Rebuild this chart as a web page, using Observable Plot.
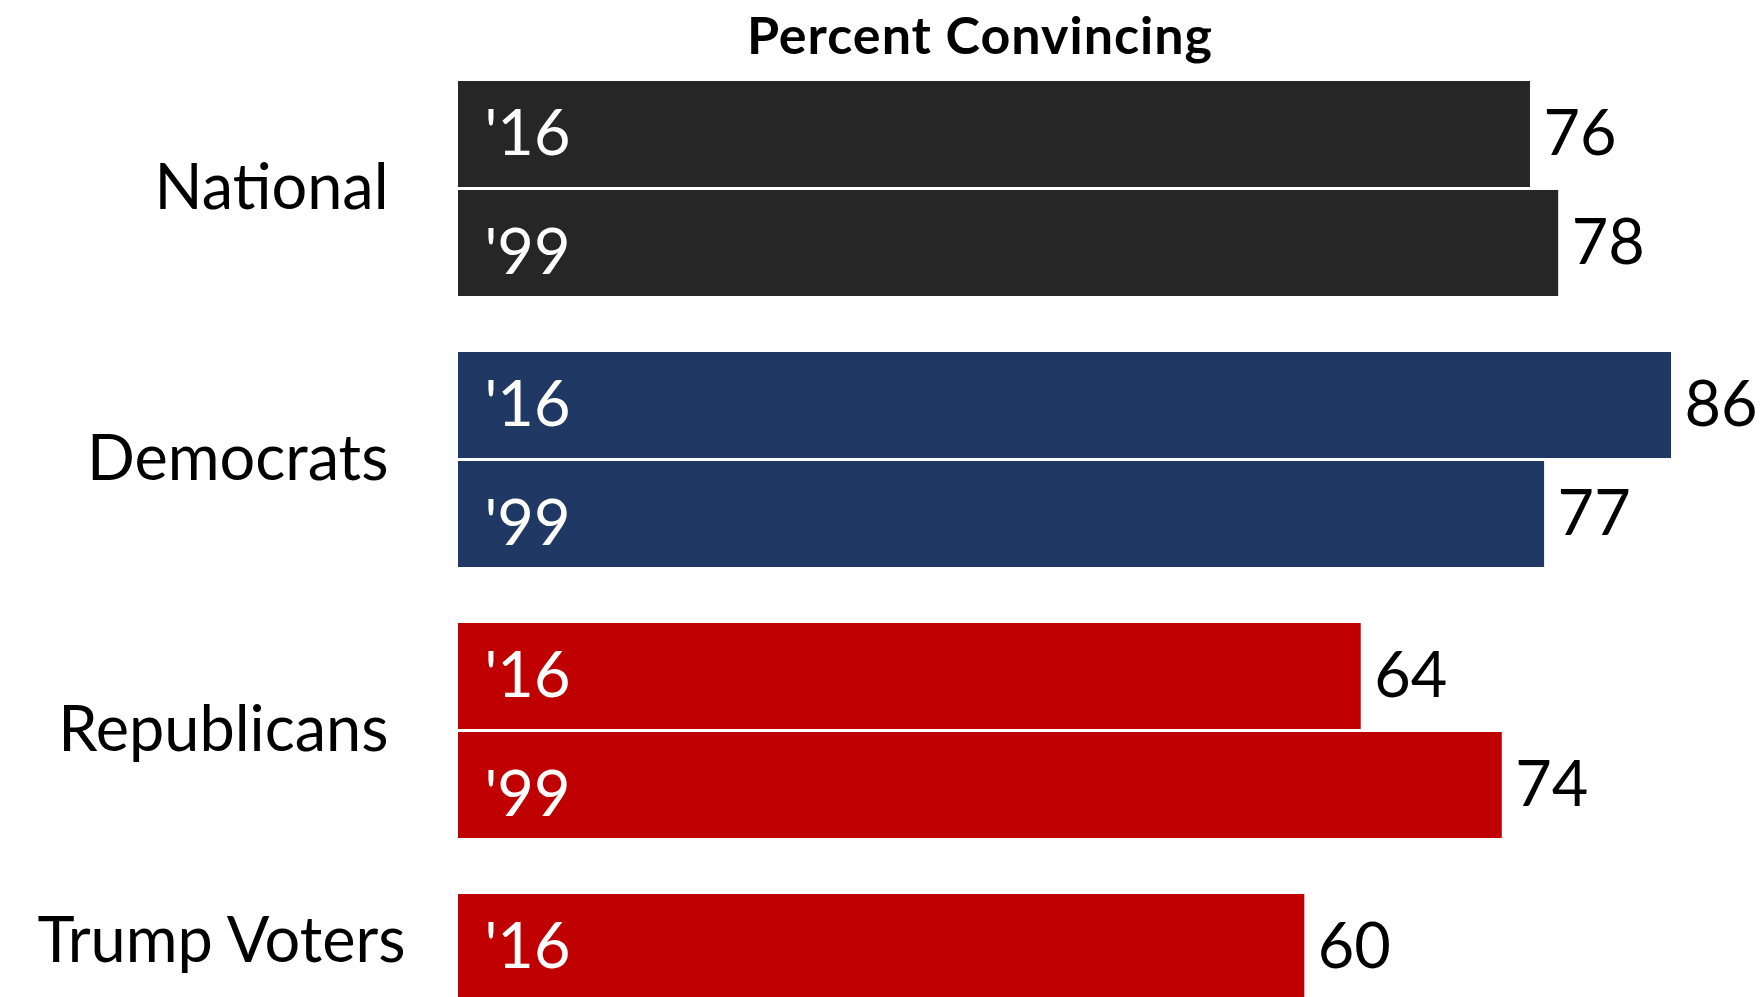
<!DOCTYPE html>
<html>
<head>
<meta charset="utf-8">
<script src="https://cdn.jsdelivr.net/npm/d3@7"></script>
<script src="https://cdn.jsdelivr.net/npm/@observablehq/plot@0.6"></script>
<style>
  html, body { margin: 0; padding: 0; background: #fff; overflow: hidden; }
  #wrap { position: relative; width: 1764px; height: 997px; overflow: hidden; background: #fff; }
  #title { position: absolute; left: 0; width: 1960px; top: 3px; text-align: center;
           font-family: Lato, sans-serif; font-weight: 700; font-size: 52px; letter-spacing: 1px;
           color: #000; line-height: normal; }
  #chart { position: absolute; left: 0; top: 0; }
</style>
</head>
<body>
<div id="wrap">
  <div id="chart"></div>
  <div id="title">Percent Convincing</div>
</div>
<script>
const groups = ["National", "Democrats", "Republicans", "Trump Voters"];
const years = ["'16", "'99"];
const values16 = [76, 86, 64, 60];
const values99 = [78, 77, 74, null];
const groupColors = ["#262626", "#203864", "#C00000", "#C00000"];

const rows = [];
groups.forEach((g, i) => {
  rows.push({group: g, year: years[0], value: values16[i], color: groupColors[i]});
  if (values99[i] != null) rows.push({group: g, year: years[1], value: values99[i], color: groupColors[i]});
});
const pairGroups = new Set(rows.filter(d => d.year === years[1]).map(d => d.group));

const chart = Plot.plot({
  width: 1764,
  height: 1109,
  marginLeft: 458,
  marginRight: 0,
  marginTop: 81,
  marginBottom: 0,
  style: {fontFamily: "Lato, sans-serif", background: "#fff"},
  facet: {data: rows, y: "group"},
  fy: {domain: groups, paddingInner: 56 / 271, paddingOuter: 0, axis: null, label: null},
  y: {domain: years, paddingInner: 3 / 109, paddingOuter: 0, axis: null, label: null},
  x: {domain: [0, 1306 / 14.105], axis: null, label: null},
  marks: [
    Plot.barX(rows, {x: "value", y: "year", fill: d => d.color}),
    // year labels inside the bars
    Plot.text(rows, {filter: d => d.year === years[0], y: "year", text: "year", frameAnchor: "left", dx: 26, dy: 0, textAnchor: "start", fill: "#fff", fontSize: 63}),
    Plot.text(rows, {filter: d => d.year === years[1], y: "year", text: "year", frameAnchor: "left", dx: 26, dy: 10, textAnchor: "start", fill: "#fff", fontSize: 63}),
    // value labels
    Plot.text(rows, {x: "value", y: "year", text: d => String(d.value), dx: 13, textAnchor: "start", fill: "#000", fontSize: 63}),
    // group labels
    Plot.text(rows, {filter: d => d.year === years[0] && pairGroups.has(d.group), text: "group", frameAnchor: "left", dx: -70, textAnchor: "end", fill: "#000", fontSize: 63}),
    Plot.text(rows, {filter: d => d.year === years[0] && !pairGroups.has(d.group), y: "year", text: "group", frameAnchor: "left", dx: -53, dy: -6, textAnchor: "end", fill: "#000", fontSize: 63})
  ]
});
document.getElementById("chart").appendChild(chart);
</script>
</body>
</html>
